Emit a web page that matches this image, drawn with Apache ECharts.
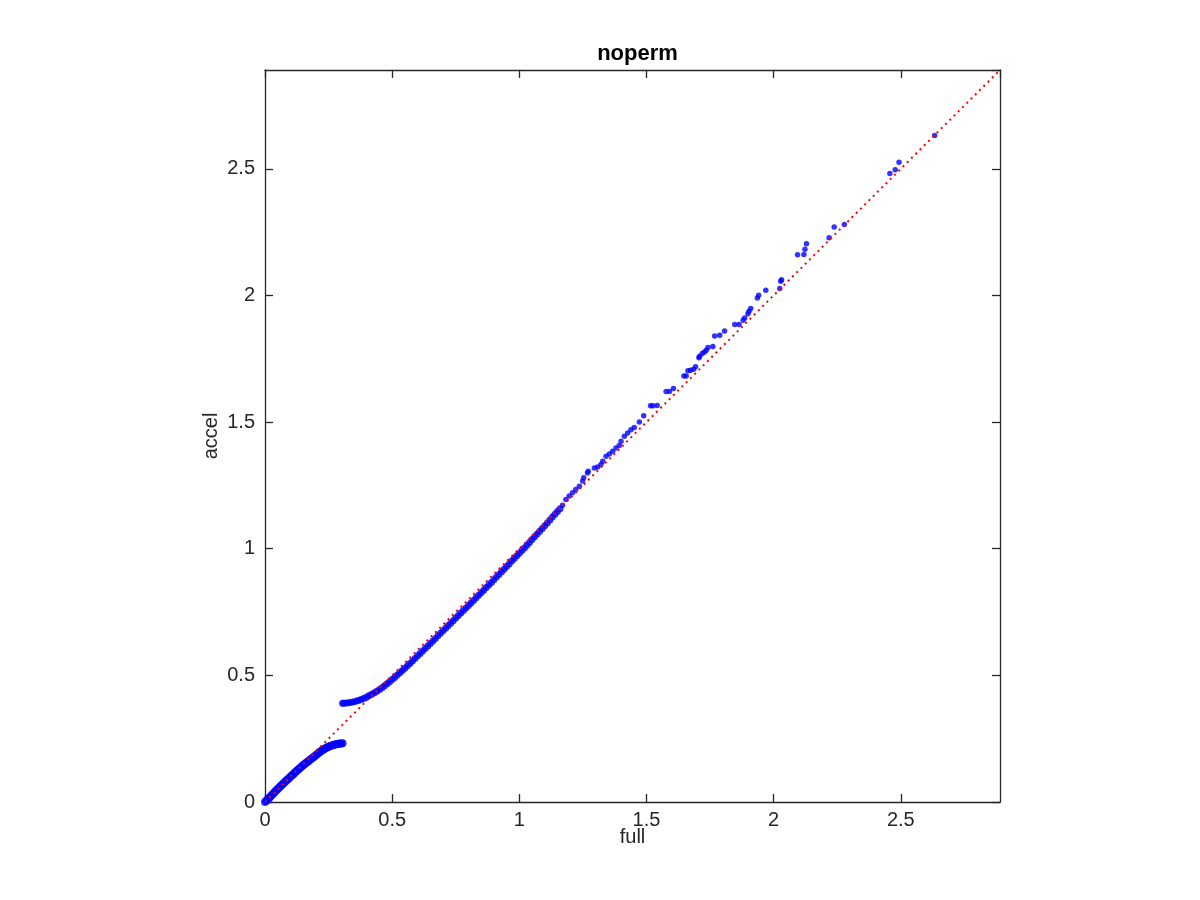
<!DOCTYPE html>
<html>
<head>
<meta charset="utf-8">
<script src="https://cdn.jsdelivr.net/npm/echarts@6/dist/echarts.min.js"></script>
<style>html,body{margin:0;padding:0;background:#fff;}#chart{width:1200px;height:900px;}</style>
</head>
<body>
<div id="chart"></div>
<script>
const titleText = 'noperm';
const xName = 'full';
const yName = 'accel';
const axisMin = 0;
const axisMax = 2.89;
const tickStep = 0.5;

const lowerBranch = [
  [0,0],[0.005,0.005],[0.01,0.01],[0.015,0.015],[0.02,0.02],[0.025,0.026],[0.03,0.031],[0.035,0.036],
  [0.04,0.041],[0.045,0.046],[0.05,0.051],[0.055,0.056],[0.06,0.061],[0.065,0.066],[0.07,0.071],
  [0.075,0.076],[0.08,0.081],[0.085,0.086],[0.09,0.09],[0.095,0.095],[0.10,0.10],[0.105,0.105],
  [0.11,0.109],[0.115,0.114],[0.12,0.118],[0.125,0.123],[0.13,0.127],[0.135,0.132],[0.14,0.136],
  [0.145,0.141],[0.15,0.145],[0.155,0.149],[0.16,0.153],[0.165,0.157],[0.17,0.161],[0.175,0.165],
  [0.18,0.169],[0.185,0.173],[0.19,0.177],[0.195,0.181],[0.20,0.185],[0.205,0.189],[0.21,0.193],
  [0.215,0.197],[0.22,0.200],[0.225,0.204],[0.23,0.207],[0.235,0.210],[0.24,0.213],[0.245,0.216],
  [0.25,0.218],[0.255,0.220],[0.26,0.222],[0.265,0.224],[0.27,0.225],[0.275,0.227],[0.28,0.228],
  [0.285,0.229],[0.29,0.230],[0.295,0.231],[0.30,0.231],[0.305,0.232]
];

const upperBranch = [
  [0.305,0.390],[0.31,0.390],[0.32,0.391],[0.33,0.392],[0.34,0.394],[0.35,0.396],[0.36,0.399],
  [0.37,0.402],[0.38,0.406],[0.39,0.410],[0.40,0.415],[0.41,0.420],[0.42,0.425],[0.43,0.431],
  [0.44,0.437],[0.45,0.444],[0.46,0.451],[0.47,0.459],[0.48,0.467],[0.49,0.475],[0.50,0.484],
  [0.51,0.492],[0.52,0.501],[0.53,0.510],[0.54,0.519],[0.55,0.528],[0.56,0.538],[0.57,0.547],
  [0.58,0.557],[0.59,0.567],[0.60,0.577],[0.61,0.586],[0.62,0.596],[0.63,0.606],[0.64,0.616],
  [0.65,0.626],[0.66,0.636],[0.67,0.646],[0.68,0.656],[0.69,0.666],[0.70,0.676],[0.71,0.686],
  [0.72,0.696],[0.73,0.706],[0.74,0.716],[0.75,0.726],[0.76,0.736],[0.77,0.746],[0.78,0.756],
  [0.79,0.766],[0.80,0.776],[0.81,0.786],[0.82,0.796],[0.83,0.806],[0.84,0.816],[0.85,0.826],
  [0.86,0.836],[0.87,0.847],[0.88,0.857],[0.89,0.867],[0.90,0.877],[0.91,0.888],[0.92,0.898],
  [0.93,0.909],[0.94,0.919],[0.95,0.930],[0.96,0.940],[0.97,0.951],[0.98,0.961],[0.99,0.972],
  [1.00,0.982],[1.01,0.993],[1.02,1.003],[1.03,1.014],[1.04,1.025],[1.05,1.036],[1.06,1.047],
  [1.07,1.058],[1.08,1.069],[1.09,1.080],[1.10,1.091],[1.11,1.102],[1.12,1.113],[1.13,1.125],
  [1.14,1.136],[1.15,1.147],[1.16,1.158]
];

const sparsePoints = [
  [1.170,1.172],[1.183,1.194],[1.196,1.208],[1.209,1.221],[1.222,1.234],[1.236,1.247],[1.249,1.267],
  [1.253,1.280],[1.268,1.299],[1.271,1.306],[1.295,1.319],[1.308,1.323],[1.321,1.332],[1.328,1.345],
  [1.341,1.365],[1.354,1.374],[1.367,1.385],[1.380,1.398],[1.393,1.407],[1.400,1.424],[1.413,1.444],
  [1.426,1.457],[1.439,1.470],[1.452,1.479],[1.472,1.500],[1.489,1.525],[1.516,1.564],[1.525,1.564],
  [1.542,1.565],[1.577,1.621],[1.590,1.621],[1.606,1.633],[1.647,1.682],[1.656,1.682],[1.663,1.703],
  [1.673,1.705],[1.685,1.709],[1.693,1.718],[1.706,1.754],[1.709,1.760],[1.719,1.771],[1.728,1.777],
  [1.735,1.784],[1.742,1.794],[1.761,1.798],[1.768,1.840],[1.788,1.843],[1.807,1.860],[1.847,1.885],
  [1.864,1.885],[1.880,1.902],[1.886,1.911],[1.899,1.928],[1.903,1.938],[1.910,1.948],[1.936,1.990],
  [1.941,2.001],[1.969,2.020],[2.024,2.027],[2.028,2.056],[2.031,2.062],[2.094,2.161],[2.119,2.162],
  [2.123,2.182],[2.129,2.204],[2.218,2.228],[2.238,2.270],[2.278,2.280],[2.457,2.481],[2.478,2.496],
  [2.493,2.526],[2.633,2.631]
];

const diagonal = [[axisMin, axisMin], [axisMax, axisMax]];

const axisColor = '#262626';
const fontFamily = '"Liberation Sans", Arial, Helvetica, sans-serif';

function makeAxis(pos, showLabel, extra) {
  return Object.assign({
    type: 'value',
    position: pos,
    min: axisMin,
    max: axisMax,
    interval: tickStep,
    axisLine: { show: true, onZero: false, lineStyle: { color: axisColor, width: 1.3 } },
    axisTick: { show: true, inside: true, length: 8, lineStyle: { color: axisColor, width: 1.3 } },
    axisLabel: { show: showLabel, color: axisColor, fontSize: 20, fontFamily: fontFamily, showMaxLabel: false,
      formatter: v => String(v) },
    splitLine: { show: false }
  }, extra || {});
}

const chart = echarts.init(document.getElementById('chart'));
chart.setOption({
  backgroundColor: '#ffffff',
  animation: false,
  title: {
    text: titleText,
    left: 632.5,
    textAlign: 'center',
    top: 38,
    textStyle: { fontSize: 22, fontWeight: 'bold', color: '#000', fontFamily: fontFamily }
  },
  grid: { left: 265, right: 200, top: 70, bottom: 98, containLabel: false },
  xAxis: [
    makeAxis('bottom', true, {
      name: xName, nameLocation: 'middle', nameGap: 25, nameMoveOverlap: false,
      nameTextStyle: { fontSize: 20, color: axisColor, fontFamily: fontFamily },
      axisLabel: { show: true, color: axisColor, fontSize: 20, fontFamily: fontFamily, margin: 8, showMaxLabel: false, formatter: v => String(v) }
    }),
    makeAxis('top', false)
  ],
  yAxis: [
    makeAxis('left', true, {
      name: yName, nameLocation: 'middle', nameGap: 44, nameMoveOverlap: false,
      nameTextStyle: { fontSize: 20, color: axisColor, fontFamily: fontFamily },
      axisLabel: { show: true, color: axisColor, fontSize: 20, fontFamily: fontFamily, margin: 10, showMaxLabel: false, formatter: v => String(v) }
    }),
    makeAxis('right', false)
  ],
  series: [
    {
      type: 'scatter', name: 'lower', data: lowerBranch, xAxisIndex: 0, yAxisIndex: 0,
      symbol: 'circle', symbolSize: 8, itemStyle: { color: '#0000ff' }, z: 3
    },
    {
      type: 'scatter', name: 'upper', data: upperBranch, xAxisIndex: 0, yAxisIndex: 0,
      symbol: 'circle', symbolSize: 7, itemStyle: { color: '#0000ff' }, z: 3
    },
    {
      type: 'scatter', name: 'sparse', data: sparsePoints, xAxisIndex: 0, yAxisIndex: 0,
      symbol: 'circle', symbolSize: 5.5, itemStyle: { color: '#0000ff' }, z: 3
    },
    {
      type: 'line', name: 'diagonal', data: diagonal, xAxisIndex: 0, yAxisIndex: 0,
      showSymbol: false, symbol: 'none', z: 4,
      lineStyle: { color: '#ff0000', width: 2, type: [2, 4] }
    }
  ]
});
</script>
</body>
</html>
